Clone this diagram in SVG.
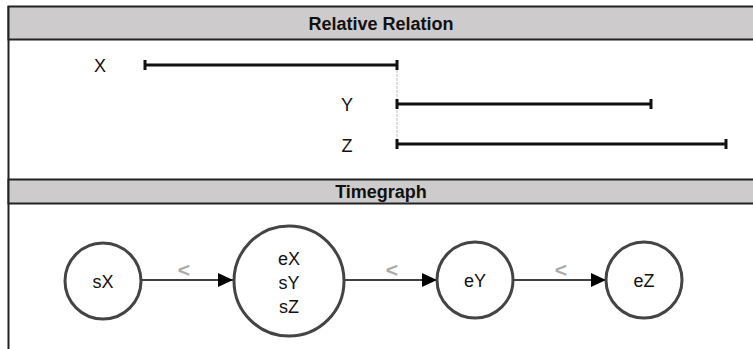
<svg xmlns="http://www.w3.org/2000/svg" width="753" height="349" viewBox="0 0 753 349">
  <style>
    .hdr { fill: #cdcbcb; stroke: #222; stroke-width: 2; }
    .hdr-t { font-family: "Liberation Sans", Arial, sans-serif; font-size: 18px; font-weight: bold; fill: #111; text-anchor: middle; }
    .lbl { font-family: "Liberation Sans", Arial, sans-serif; font-size: 18px; fill: #111; text-anchor: middle; }
    .bar { stroke: #111; stroke-width: 3; fill: none; }
    .tick { stroke: #111; stroke-width: 3; fill: none; }
    .node { fill: #fff; stroke: #444; stroke-width: 3; }
    .edge { stroke: #000; stroke-width: 1.3; fill: none; }
    .lt { font-family: "Liberation Sans", Arial, sans-serif; font-size: 21px; font-weight: bold; fill: #aaa; text-anchor: middle; }
  </style>
  <defs>
    <marker id="arrow" viewBox="0 0 15 14" refX="15" refY="7" markerWidth="15" markerHeight="14" markerUnits="userSpaceOnUse" orient="auto">
      <path d="M0,0 L15,7 L0,14 Z" fill="#000"/>
    </marker>
  </defs>
  <rect width="753" height="349" fill="#fff"/>

  <!-- frame -->
  <line x1="8.5" y1="6" x2="8.5" y2="349" stroke="#222" stroke-width="2"/>

  <!-- section headers -->
  <g id="header-relative">
    <rect class="hdr" x="8.5" y="6.5" width="760" height="33"/>
    <text class="hdr-t" x="381" y="30">Relative Relation</text>
  </g>
  <g id="header-timegraph">
    <rect class="hdr" x="8.5" y="179.5" width="760" height="24"/>
    <text class="hdr-t" x="381" y="198">Timegraph</text>
  </g>

  <!-- intervals -->
  <g id="interval-guides">
    <line x1="397" y1="66" x2="397" y2="150" stroke="#bbb" stroke-width="1" stroke-dasharray="3,1"/>
  </g>
  <g id="interval-X">
    <text class="lbl" x="100" y="72">X</text>
    <line class="bar" x1="145" y1="65" x2="397" y2="65"/>
    <line class="tick" x1="145" y1="60" x2="145" y2="70"/>
    <line class="tick" x1="397" y1="60" x2="397" y2="70"/>
  </g>
  <g id="interval-Y">
    <text class="lbl" x="347" y="111">Y</text>
    <line class="bar" x1="397" y1="104" x2="651" y2="104"/>
    <line class="tick" x1="397" y1="99" x2="397" y2="109"/>
    <line class="tick" x1="651" y1="99" x2="651" y2="109"/>
  </g>
  <g id="interval-Z">
    <text class="lbl" x="347" y="152">Z</text>
    <line class="bar" x1="397" y1="144" x2="726" y2="144"/>
    <line class="tick" x1="397" y1="139" x2="397" y2="149"/>
    <line class="tick" x1="726" y1="139" x2="726" y2="149"/>
  </g>

  <!-- timegraph connectors -->
  <g id="connectors">
    <line class="edge" x1="141" y1="280" x2="233" y2="280" marker-end="url(#arrow)"/>
    <text class="lt" x="184" y="277">&lt;</text>
    <line class="edge" x1="345" y1="280" x2="437" y2="280" marker-end="url(#arrow)"/>
    <text class="lt" x="392" y="277">&lt;</text>
    <line class="edge" x1="513" y1="280" x2="606" y2="280" marker-end="url(#arrow)"/>
    <text class="lt" x="561" y="277">&lt;</text>
  </g>

  <!-- timegraph nodes -->
  <g id="node-sX">
    <circle class="node" cx="103" cy="281" r="38"/>
    <text class="lbl" x="103" y="288">sX</text>
  </g>
  <g id="node-eX-sY-sZ">
    <circle class="node" cx="289" cy="281" r="55"/>
    <text class="lbl" x="289" y="265">eX</text>
    <text class="lbl" x="289" y="289">sY</text>
    <text class="lbl" x="289" y="313">sZ</text>
  </g>
  <g id="node-eY">
    <circle class="node" cx="475" cy="280" r="38"/>
    <text class="lbl" x="475" y="287">eY</text>
  </g>
  <g id="node-eZ">
    <circle class="node" cx="644" cy="280" r="38"/>
    <text class="lbl" x="644" y="287">eZ</text>
  </g>
</svg>
